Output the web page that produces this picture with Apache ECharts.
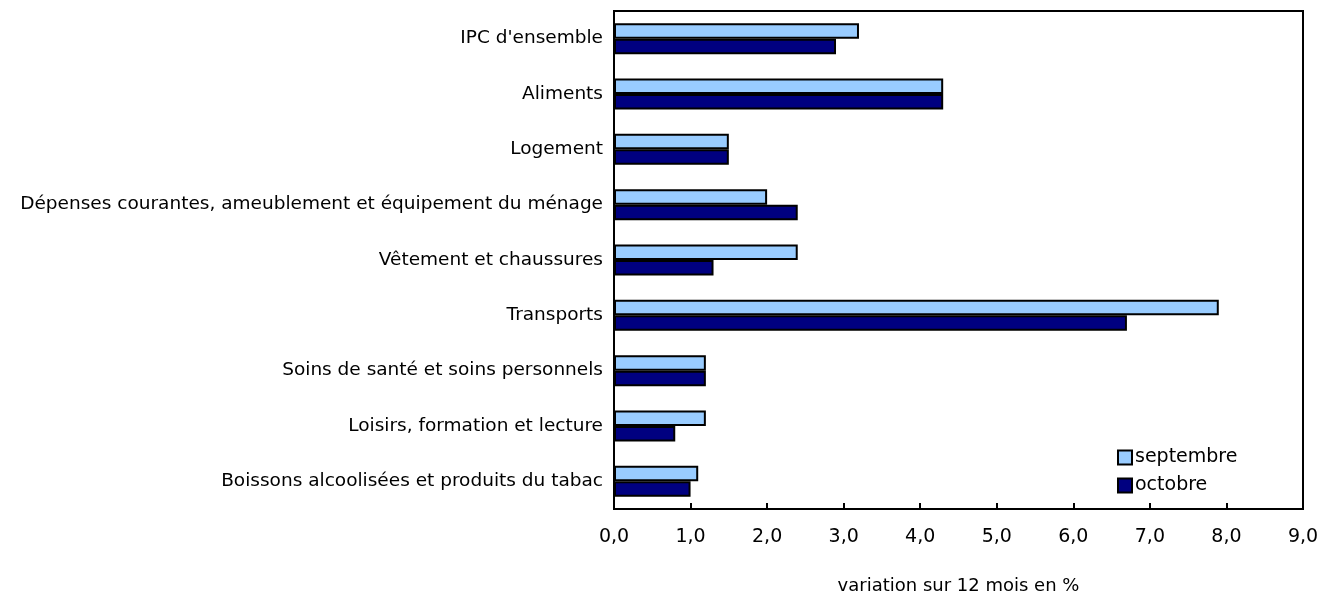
<!DOCTYPE html>
<html>
<head>
<meta charset="utf-8">
<script src="https://cdn.jsdelivr.net/npm/echarts@6/dist/echarts.min.js"></script>
<style>
html,body{margin:0;padding:0;background:#fff;}
#chart{width:1322px;height:600px;}
</style>
</head>
<body>
<div id="chart"></div>
<script>
const categories = [
  "IPC d'ensemble",
  "Aliments",
  "Logement",
  "Dépenses courantes, ameublement et équipement du ménage",
  "Vêtement et chaussures",
  "Transports",
  "Soins de santé et soins personnels",
  "Loisirs, formation et lecture",
  "Boissons alcoolisées et produits du tabac"
];
const septembre = [3.2, 4.3, 1.5, 2.0, 2.4, 7.9, 1.2, 1.2, 1.1];
const octobre = [2.9, 4.3, 1.5, 2.4, 1.3, 6.7, 1.2, 0.8, 1.0];
const seriesNames = ["septembre", "octobre"];
const axisTitle = "variation sur 12 mois en %";

const chart = echarts.init(document.getElementById('chart'));
chart.setOption({
  animation: false,
  grid: {
    left: 614, right: 19, top: 11, bottom: 85,
    show: true, borderColor: '#000', borderWidth: 2, backgroundColor: 'transparent'
  },
  legend: {
    orient: 'vertical',
    left: 1112, top: 443,
    itemWidth: 14, itemHeight: 14, itemGap: 9,
    icon: 'rect',
    data: seriesNames,
    textStyle: { fontFamily: 'DejaVu Sans', fontSize: 19, lineHeight: 19, color: '#000', padding: [0,0,0,-2] },
    itemStyle: { borderColor: '#000', borderWidth: 2 }
  },
  xAxis: {
    type: 'value', min: 0, max: 9, interval: 1,
    name: axisTitle, nameLocation: 'middle', nameGap: 68,
    nameTextStyle: { fontFamily: 'DejaVu Sans', fontSize: 18, color: '#000' },
    axisLine: { show: true, lineStyle: { color: '#000', width: 2 } },
    axisTick: { show: true, inside: true, length: 6, lineStyle: { color: '#000', width: 2 } },
    axisLabel: {
      margin: 19, fontFamily: 'DejaVu Sans', fontSize: 19, color: '#000',
      formatter: v => v.toFixed(1).replace('.', ',')
    },
    splitLine: { show: false }
  },
  yAxis: {
    type: 'category', data: categories, inverse: true,
    axisLine: { show: true, lineStyle: { color: '#000', width: 2 } },
    axisTick: { show: false },
    axisLabel: { margin: 11, fontFamily: 'DejaVu Sans', fontSize: 18.5, color: '#000' }
  },
  series: [
    {
      name: seriesNames[0], type: 'bar', data: septembre,
      barGap: '0%', barCategoryGap: '44%',
      itemStyle: { color: '#99CCFF', borderColor: '#000', borderWidth: 2 }
    },
    {
      name: seriesNames[1], type: 'bar', data: octobre,
      itemStyle: { color: '#000080', borderColor: '#000', borderWidth: 2 }
    }
  ]
});
</script>
</body>
</html>
